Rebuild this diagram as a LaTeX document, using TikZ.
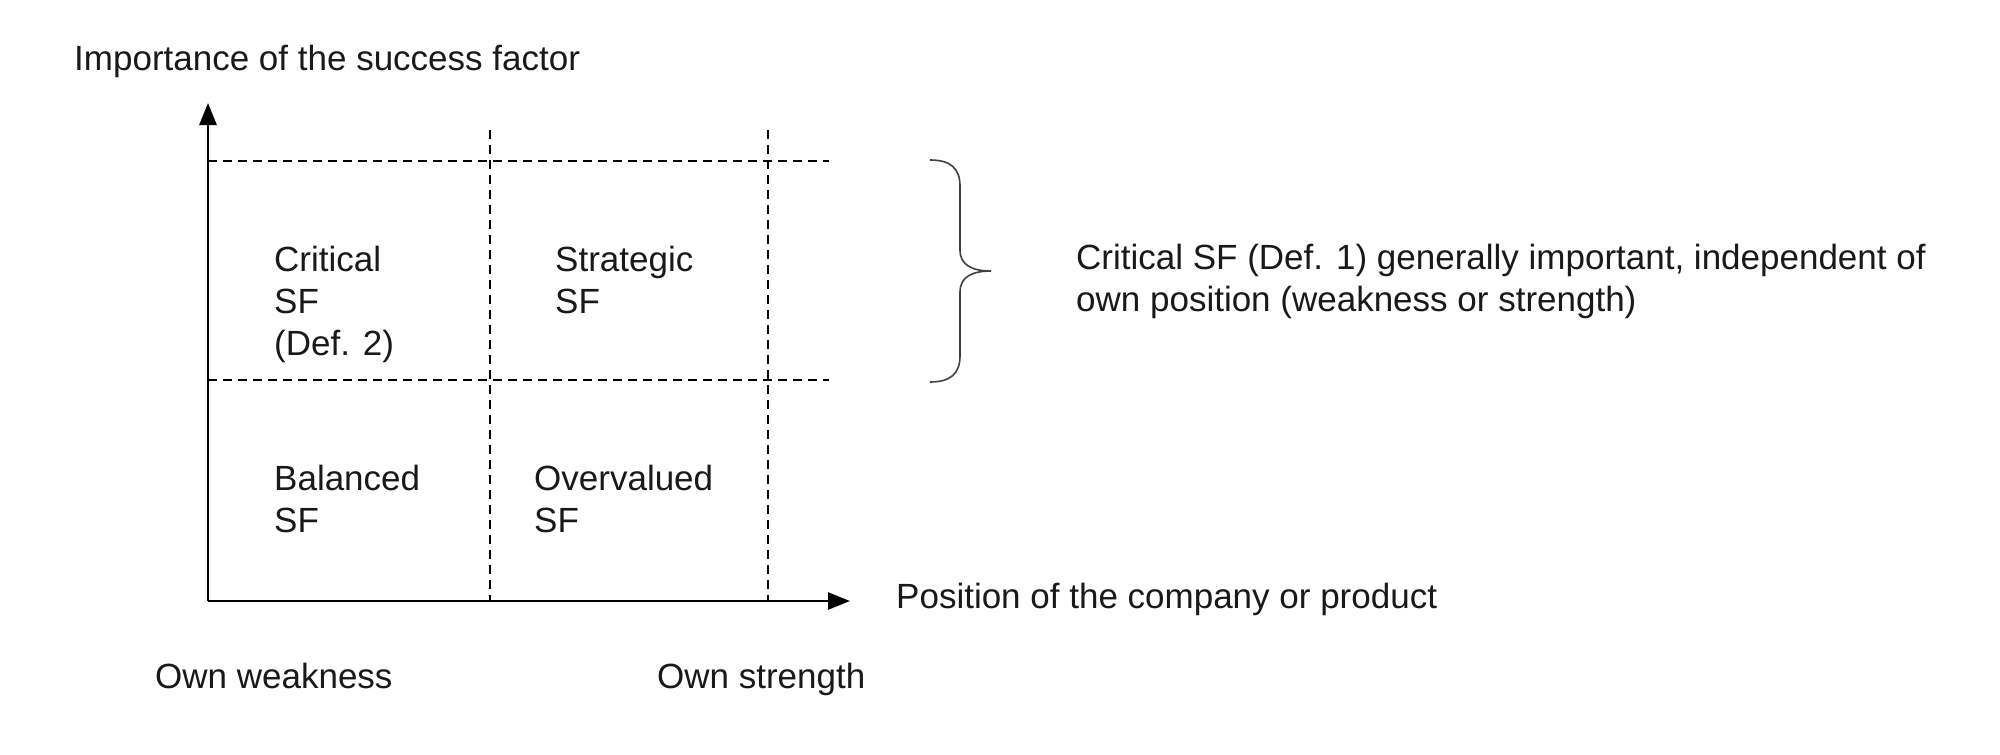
\documentclass[tikz,border=0pt]{standalone}
\usepackage{fontspec}
\setmainfont{Liberation Sans}
\usetikzlibrary{arrows.meta}
\begin{document}
\begin{tikzpicture}[x=1pt,y=-1pt,
  lbl/.style={inner sep=0pt,anchor=base west,align=left,font=\fontsize{35}{42}\selectfont,text=black!90},
  axis/.style={line width=2.6pt,-{Triangle[length=22pt,width=17pt]}},
  grid/.style={line width=2pt,dash pattern=on 9pt off 6pt},
  bracestyle/.style={line width=1.6pt,draw=black!75}]
\useasboundingbox (0,0) rectangle (2000,755);
\coordinate (o) at (208,601);
\coordinate (ytip) at (208,103);
\coordinate (xtip) at (850,601);
\coordinate (h1l) at (208,161); \coordinate (h1r) at (829,161);
\coordinate (h2l) at (208,380); \coordinate (h2r) at (829,380);
\coordinate (v1t) at (490,130); \coordinate (v1b) at (490,601);
\coordinate (v2t) at (768,130); \coordinate (v2b) at (768,601);
\draw[grid] (h1l) -- (h1r);
\draw[grid] (h2l) -- (h2r);
\draw[grid] (v1t) -- (v1b);
\draw[grid] (v2t) -- (v2b);
\draw[axis] (o) -- (ytip);
\draw[axis] (o) -- (xtip);
\coordinate (bt) at (930,160);
\coordinate (btip) at (991,271);
\coordinate (bb) at (930,382);
\draw[bracestyle] (bt) .. controls (950,160) and (960,168) .. (960,186) -- (960,250)
  .. controls (960,265) and (972,271) .. (btip)
  .. controls (972,271) and (960,277) .. (960,292) -- (960,356)
  .. controls (960,374) and (950,382) .. (bb);
\node[lbl] (title) at (74,70) {Importance of the success factor};
\node[lbl] (crit) at (274,355) {Critical\\SF\\(Def. 2)};
\node[lbl] (strat) at (555,313) {Strategic\\SF};
\node[lbl] (bal) at (274,532) {Balanced\\SF};
\node[lbl] (over) at (534,532) {Overvalued\\SF};
\node[lbl] (pos) at (896,608) {Position of the company or product};
\node[lbl] (weak) at (155,688) {Own weakness};
\node[lbl] (strong) at (657,688) {Own strength};
\node[lbl] (def1) at (1076,311) {Critical SF (Def. 1) generally important, independent of\\own position (weakness or strength)};
\end{tikzpicture}
\end{document}
